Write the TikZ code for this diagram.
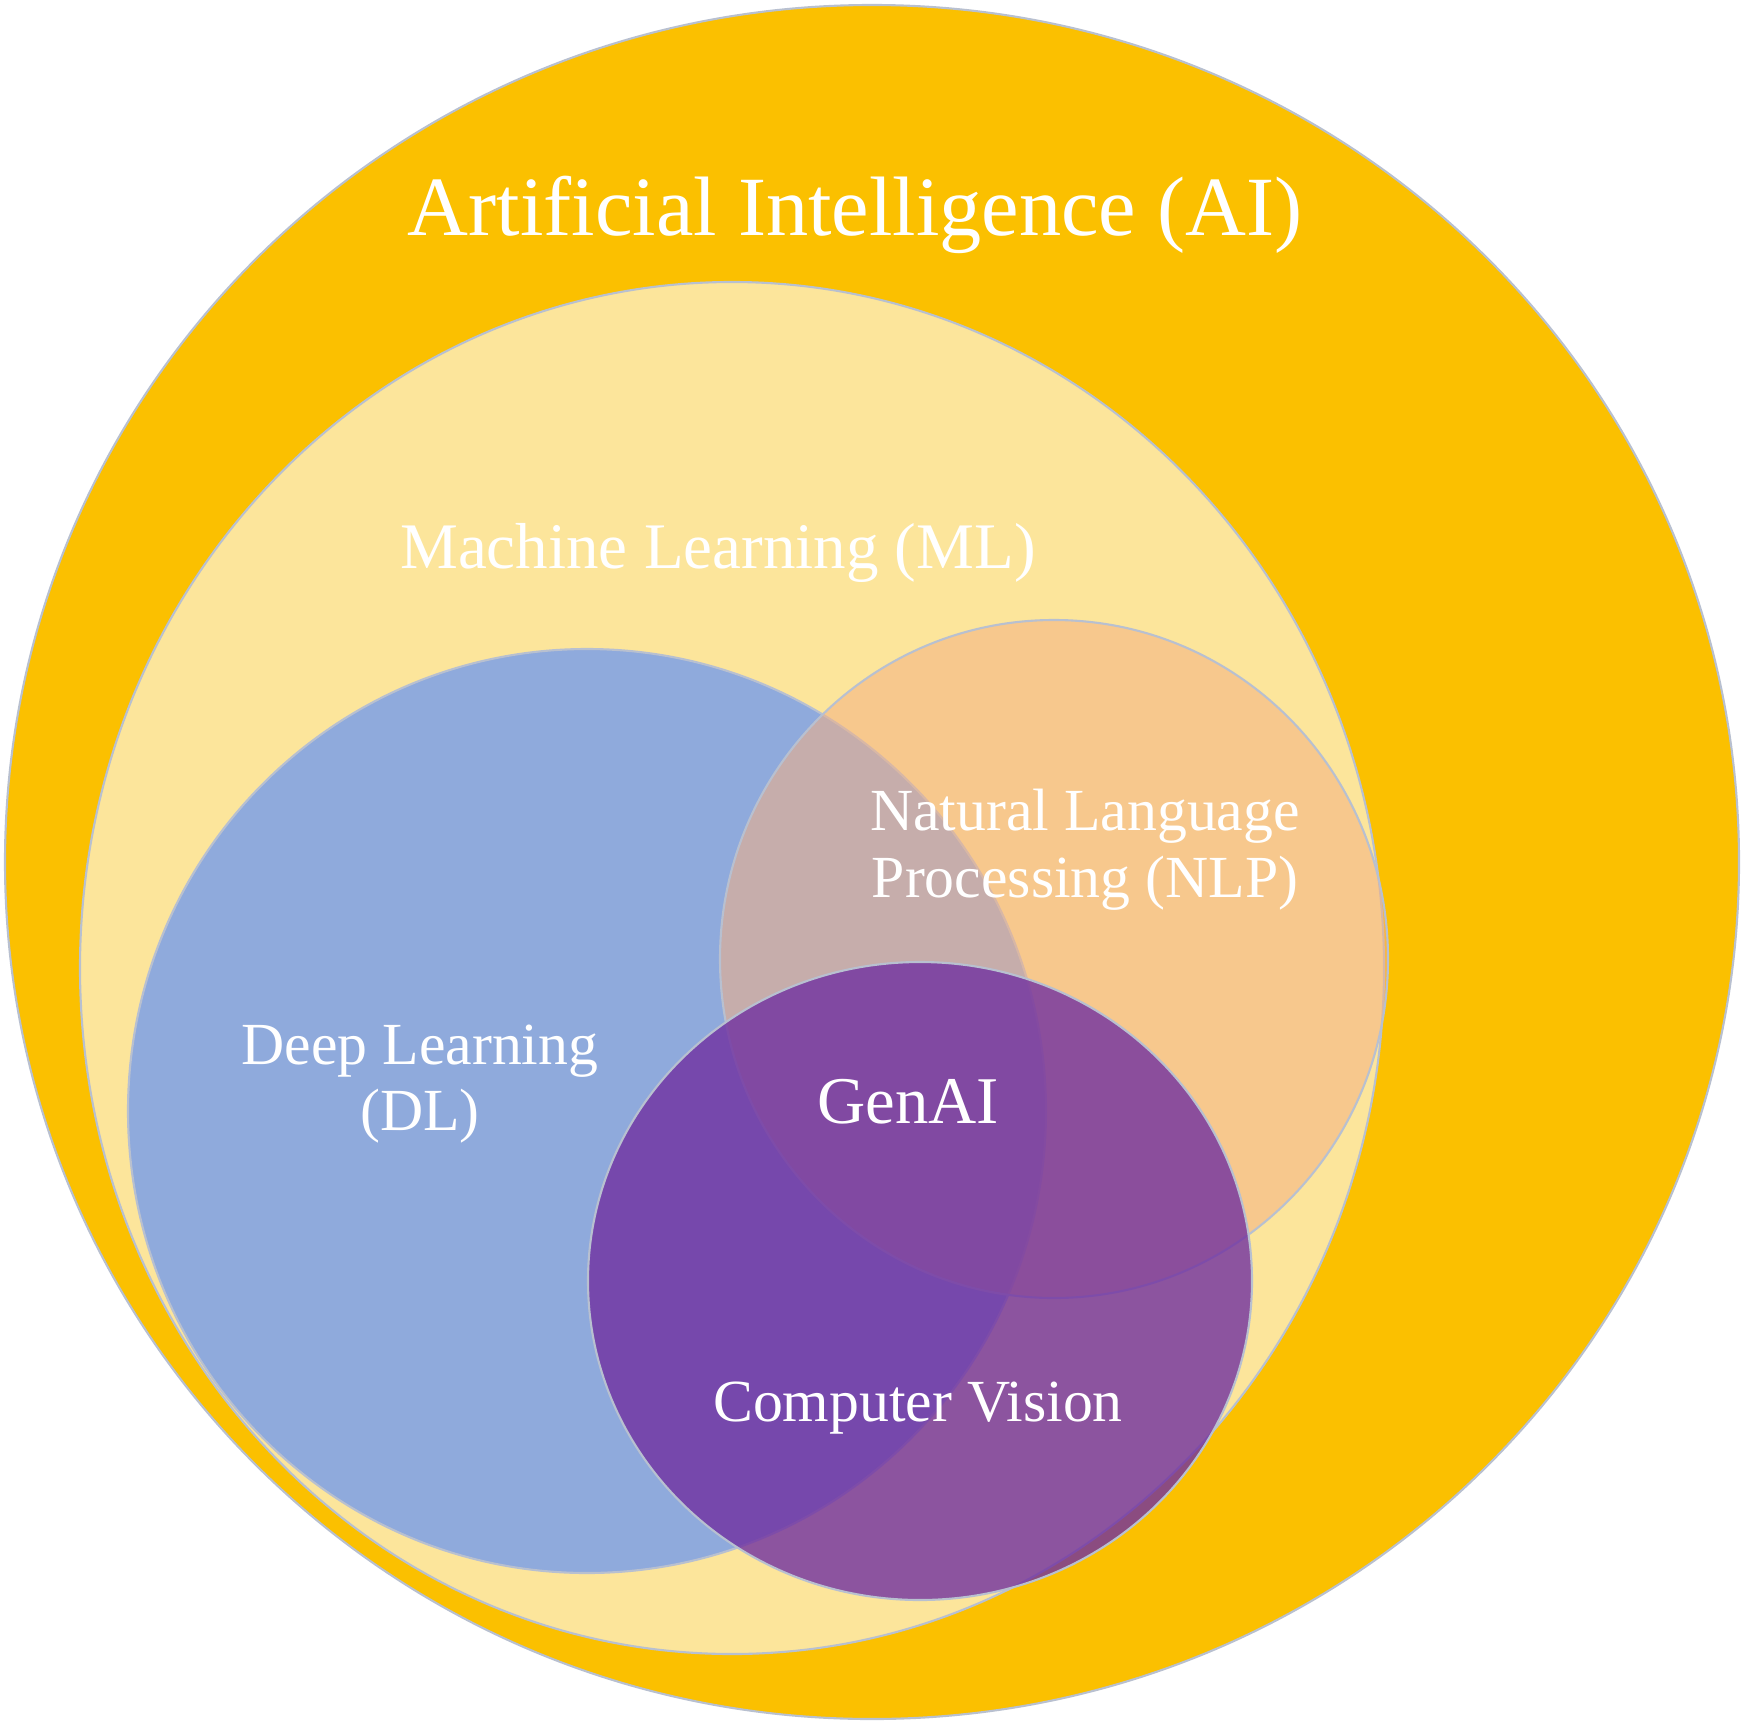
\documentclass[tikz,border=0pt]{standalone}
\usepackage{fontspec}
\setmainfont{Liberation Serif}
\usetikzlibrary{shapes.geometric}
\definecolor{aiC}{HTML}{FBC000}
\definecolor{mlC}{HTML}{FCE59B}
\definecolor{dlC}{HTML}{8FAADC}
\definecolor{nlpC}{HTML}{F4B183}
\definecolor{cvC}{HTML}{7030A0}
\definecolor{edge}{HTML}{B8C0D0}
\tikzset{
 blob/.style={draw=edge, line width=1.2pt},
 lbl/.style={text=white, align=center, font=\fontsize{34}{38}\selectfont}
}
\begin{document}
\begin{tikzpicture}[x=0.02cm,y=-0.02cm]
\useasboundingbox (0,0) rectangle (1746,1723);
\draw[blob, fill=aiC] (872,862) ellipse [x radius=867, y radius=857];
\draw[blob, fill=mlC] (732,968) ellipse [x radius=652, y radius=686];
\draw[blob, fill=dlC] (587,1111) ellipse [x radius=459, y radius=462];
\draw[blob, fill=nlpC, fill opacity=0.55] (1054,959) ellipse [x radius=334, y radius=339];
\draw[blob, fill=cvC, fill opacity=0.8] (920,1281) ellipse [x radius=332, y radius=319];
\node[lbl, font=\fontsize{48}{52}\selectfont] (ai) at (855,215) {Artificial Intelligence (AI)};
\node[lbl, font=\fontsize{37}{40}\selectfont] (ml) at (718,553) {Machine Learning (ML)};
\node[lbl] (nlp) at (1085,850) {Natural Language\\Processing (NLP)};
\node[lbl] (dl) at (420,1084) {Deep Learning\\(DL)};
\node[lbl, font=\fontsize{38}{42}\selectfont] (gen) at (908,1102) {GenAI};
\node[lbl] (cv) at (918,1408) {Computer Vision};
\end{tikzpicture}
\end{document}
